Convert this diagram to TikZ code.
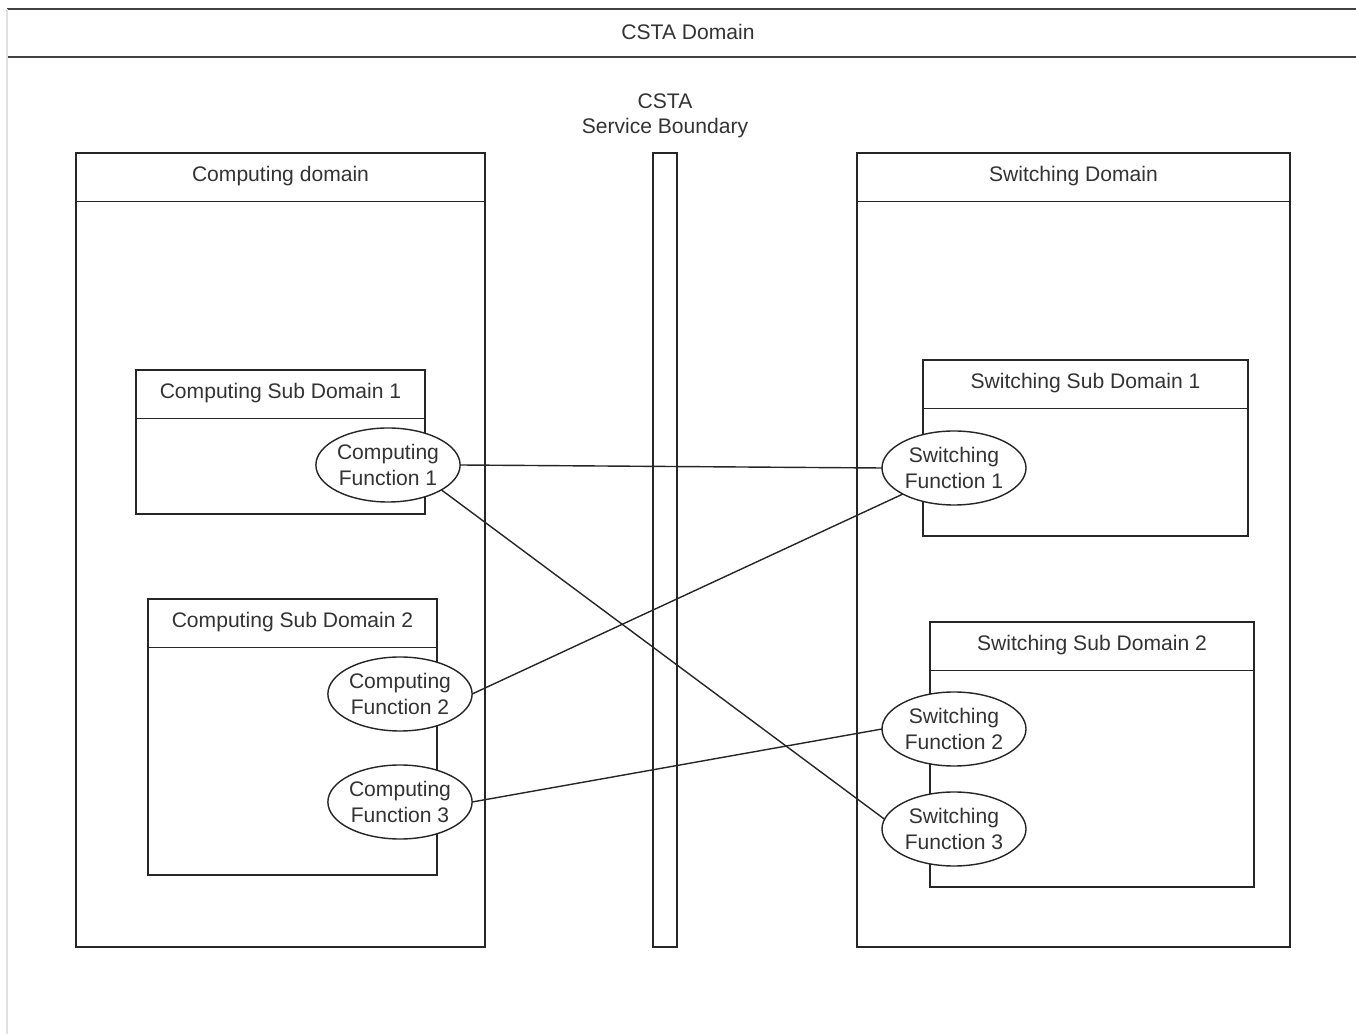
\documentclass[tikz,border=0pt]{standalone}
\usepackage{fontspec}
\setmainfont{Liberation Sans}
\usetikzlibrary{calc,positioning,shapes.geometric}

\tikzset{
  domain-box/.style={draw=black!85,line width=0.8pt,anchor=north west,inner sep=0pt,outer sep=0pt},
  domain-head/.style={draw=black!85,line width=0.8pt,anchor=north west,inner sep=0pt,outer sep=0pt,minimum height=0.97cm,text height=0.72em,text depth=0.2em},
  function/.style={ellipse,draw=black!85,line width=0.8pt,fill=white,minimum width=2.88cm,minimum height=1.48cm,inner sep=0pt,outer sep=0pt,align=center},
  link/.style={draw=black!85,line width=0.8pt},
}

\begin{document}
\begin{tikzpicture}[font=\fontsize{12}{14.5}\selectfont,text=black!80]

  \useasboundingbox (0,0) rectangle (27.12,-20.68);

  % CSTA domain
  \draw[line width=1.3pt,black!75] (0.14,-0.18) -- (27.12,-0.18);
  \draw[line width=1.3pt,black!75] (0.14,-1.14) -- (27.12,-1.14);
  \draw[line width=0.8pt,black!12] (0.14,-0.18) -- (0.14,-20.68);
  \path (13.76,-0.64) node (csta-domain) {CSTA Domain};

  % Domains
  \path (1.52,-3.06) node[domain-box,minimum width=8.18cm,minimum height=15.88cm] (comp-domain) {};
  \path (comp-domain.north west) node[domain-head,minimum width=8.18cm] (comp-domain-head) {Computing domain};
  \path (comp-domain.north east) +(3.36,0.0) node[domain-box,minimum width=0.48cm,minimum height=15.88cm] (boundary) {};
  \path (boundary.north) +(0.0,0.74) node[align=center] (boundary-label) {CSTA\\Service Boundary};
  \path (boundary.north east) +(3.6,0.0) node[domain-box,minimum width=8.66cm,minimum height=15.88cm] (sw-domain) {};
  \path (sw-domain.north west) node[domain-head,minimum width=8.66cm] (sw-domain-head) {Switching Domain};

  % Sub domains
  \path (comp-domain.north west) +(1.2,-4.34) node[domain-box,minimum width=5.78cm,minimum height=2.88cm] (comp-sub-1) {};
  \path (comp-sub-1.north west) node[domain-head,minimum width=5.78cm] (comp-sub-1-head) {Computing Sub Domain 1};
  \path (comp-domain.north west) +(1.44,-8.92) node[domain-box,minimum width=5.78cm,minimum height=5.52cm] (comp-sub-2) {};
  \path (comp-sub-2.north west) node[domain-head,minimum width=5.78cm] (comp-sub-2-head) {Computing Sub Domain 2};
  \path (sw-domain.north west) +(1.32,-4.14) node[domain-box,minimum width=6.5cm,minimum height=3.52cm] (sw-sub-1) {};
  \path (sw-sub-1.north west) node[domain-head,minimum width=6.5cm] (sw-sub-1-head) {Switching Sub Domain 1};
  \path (sw-domain.north west) +(1.46,-9.38) node[domain-box,minimum width=6.48cm,minimum height=5.3cm] (sw-sub-2) {};
  \path (sw-sub-2.north west) node[domain-head,minimum width=6.48cm] (sw-sub-2-head) {Switching Sub Domain 2};

  % Functions
  \path (comp-sub-1.north east) +(-0.74,-1.9) node[function] (comp-fn-1) {Computing\\Function 1};
  \path (comp-sub-2.north east) +(-0.74,-1.9) node[function] (comp-fn-2) {Computing\\Function 2};
  \path (comp-fn-2.center) +(0.0,-2.16) node[function] (comp-fn-3) {Computing\\Function 3};
  \path (sw-sub-1.north west) +(0.62,-2.16) node[function] (sw-fn-1) {Switching\\Function 1};
  \path (sw-sub-2.north west) +(0.48,-2.14) node[function] (sw-fn-2) {Switching\\Function 2};
  \path (sw-fn-2.center) +(0.0,-2.0) node[function] (sw-fn-3) {Switching\\Function 3};

  % Links
  \draw[link] (comp-fn-1.east) -- (sw-fn-1.west);
  \draw[link] (comp-fn-1.-25) -- (sw-fn-3.172);
  \draw[link] (comp-fn-2.east) -- (sw-fn-1.207);
  \draw[link] (comp-fn-3.east) -- (sw-fn-2.west);

\end{tikzpicture}
\end{document}
